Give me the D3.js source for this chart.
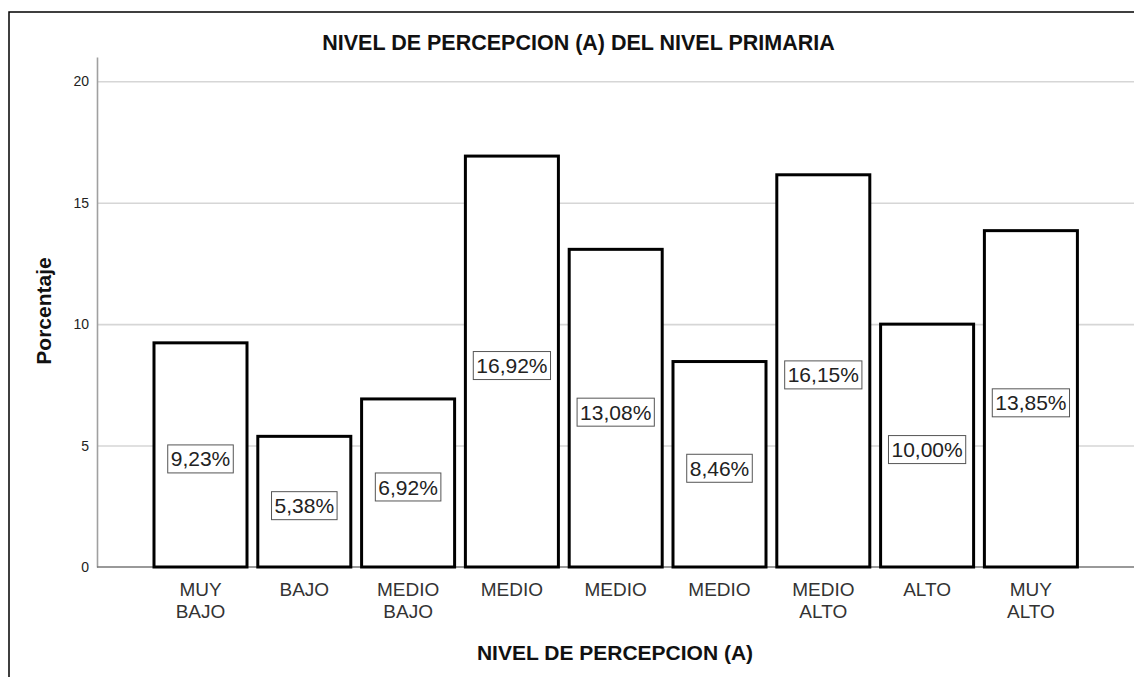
<!DOCTYPE html>
<html>
<head>
<meta charset="utf-8">
<script src="https://cdn.jsdelivr.net/npm/d3@7"></script>
<style>
  body { margin: 0; background: #fff; }
  svg { display: block; font-family: "Liberation Sans", Arial, sans-serif; }
</style>
</head>
<body>
<div id="canvas"></div>
<script>
// data
const categories = [
  ["MUY", "BAJO"],
  ["BAJO"],
  ["MEDIO", "BAJO"],
  ["MEDIO"],
  ["MEDIO"],
  ["MEDIO"],
  ["MEDIO", "ALTO"],
  ["ALTO"],
  ["MUY", "ALTO"]
];
const percentages = [9.23, 5.38, 6.92, 16.92, 13.08, 8.46, 16.15, 10.0, 13.85];
const yTicks = [0, 5, 10, 15, 20];
const title = "NIVEL DE PERCEPCION (A) DEL NIVEL PRIMARIA";
const xTitle = "NIVEL DE PERCEPCION (A)";
const yTitle = "Porcentaje";

const width = 1134;
const height = 677;
const axisX = 97;      // y axis position
const baseY = 567;     // zero line
const topY = 57;

const svg = d3.select("#canvas").append("svg")
  .attr("width", width)
  .attr("height", height);

// outer frame (only top and left show)
svg.append("rect")
  .attr("x", 9).attr("y", 12)
  .attr("width", width + 20).attr("height", height + 20)
  .attr("fill", "none")
  .attr("stroke", "#000")
  .attr("stroke-width", 1.5);

const idx = percentages.map((d, i) => i);

const x = d3.scaleBand()
  .domain(idx)
  .range([148.6, 1082.8])
  .paddingInner(0.104)
  .paddingOuter(0.052);

const y = d3.scaleLinear().domain([0, 21]).range([baseY, topY]);

// gridlines
svg.append("g")
  .attr("transform", `translate(${axisX},0)`)
  .call(d3.axisLeft(y).tickValues(yTicks.filter(t => t > 0)).tickSize(-(width - axisX)).tickFormat(""))
  .call(g => g.select(".domain").remove())
  .call(g => g.selectAll("line").attr("stroke", "#d6d6d6").attr("stroke-width", 1.6));

// y axis
svg.append("g")
  .attr("transform", `translate(${axisX},0)`)
  .call(d3.axisLeft(y).tickValues(yTicks).tickSize(0).tickPadding(8))
  .call(g => g.select(".domain").attr("stroke", "#a0a0a0").attr("stroke-width", 1.6))
  .call(g => g.selectAll("text")
    .attr("font-size", 14)
    .attr("fill", "#222")
    .attr("font-family", "Liberation Sans, Arial, sans-serif"));

// x axis line
svg.append("line")
  .attr("x1", axisX).attr("x2", width)
  .attr("y1", baseY).attr("y2", baseY)
  .attr("stroke", "#777")
  .attr("stroke-width", 1.4);

// bars
svg.selectAll("rect.bar")
  .data(percentages)
  .enter()
  .append("rect")
  .attr("class", "bar")
  .attr("x", (d, i) => x(i))
  .attr("y", d => y(d))
  .attr("width", x.bandwidth())
  .attr("height", d => baseY - y(d))
  .attr("fill", "#fff")
  .attr("stroke", "#000")
  .attr("stroke-width", 3);

// value labels in boxes
const fmt = v => v.toFixed(2).replace(".", ",") + "%";
const labels = svg.selectAll("g.lbl")
  .data(percentages)
  .enter()
  .append("g")
  .attr("class", "lbl")
  .attr("transform", (d, i) => `translate(${x(i) + x.bandwidth() / 2},${y(d / 2) + 4})`);

labels.append("text")
  .attr("text-anchor", "middle")
  .attr("dy", "0.36em")
  .attr("font-size", 21)
  .attr("fill", "#222")
  .text(fmt);

labels.each(function () {
  const g = d3.select(this);
  const w = g.select("text").node().getComputedTextLength();
  g.insert("rect", "text")
    .attr("x", -w / 2 - 3)
    .attr("y", -14)
    .attr("width", w + 6)
    .attr("height", 28)
    .attr("fill", "#fff")
    .attr("stroke", "#555")
    .attr("stroke-width", 1);
});

// category labels
const ticks = svg.selectAll("text.cat")
  .data(categories)
  .enter()
  .append("text")
  .attr("class", "cat")
  .attr("text-anchor", "middle")
  .attr("font-size", 19)
  .attr("fill", "#333")
  .attr("x", (d, i) => x(i) + x.bandwidth() / 2)
  .attr("y", 596);

ticks.selectAll("tspan")
  .data(d => d)
  .enter()
  .append("tspan")
  .attr("x", function () { return d3.select(this.parentNode).attr("x"); })
  .attr("dy", (d, i) => (i === 0 ? 0 : 21.5))
  .text(d => d);

// titles
svg.append("text")
  .attr("x", 578.5).attr("y", 50)
  .attr("text-anchor", "middle")
  .attr("font-size", 21.5)
  .attr("font-weight", "bold")
  .attr("fill", "#111")
  .text(title);

svg.append("text")
  .attr("x", 615).attr("y", 660)
  .attr("text-anchor", "middle")
  .attr("font-size", 21)
  .attr("font-weight", "bold")
  .attr("fill", "#111")
  .text(xTitle);

svg.append("text")
  .attr("transform", "translate(51,311) rotate(-90)")
  .attr("text-anchor", "middle")
  .attr("font-size", 21)
  .attr("font-weight", "bold")
  .attr("fill", "#111")
  .text(yTitle);
</script>
</body>
</html>
